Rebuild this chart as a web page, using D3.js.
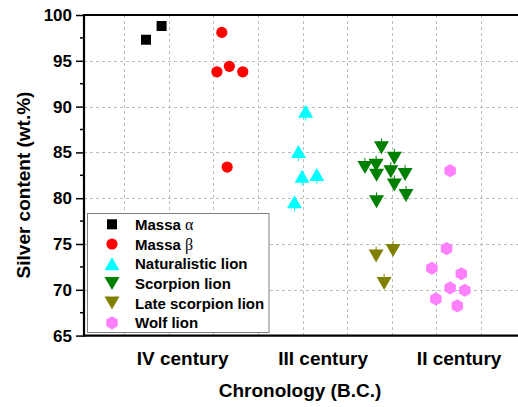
<!DOCTYPE html>
<html><head><meta charset="utf-8">
<script src="https://cdn.jsdelivr.net/npm/d3@7"></script>
<style>body{margin:0;background:#fff;}svg{display:block;}</style>
</head><body>
<svg id="chart" width="518" height="407"></svg>
<script>
const categories = ["IV century", "III century", "II century"];
const categoryPos = [2.3, 5.45, 8.5];
const yTicks = [65, 70, 75, 80, 85, 90, 95, 100];
const yMinorTicks = [67.5, 72.5, 77.5, 82.5, 87.5, 92.5, 97.5];
const xGrid = [1, 2, 3, 4, 5, 6, 7, 8, 9];

const massaAlphaX = [1.49, 1.84];
const massaAlphaY = [97.3, 98.8];
const massaBetaX = [3.19, 3.08, 3.36, 3.66, 3.31];
const massaBetaY = [98.1, 93.8, 94.4, 93.8, 83.4];
const naturalisticX = [5.07, 4.91, 4.99, 5.32, 4.82];
const naturalisticY = [89.5, 85.1, 82.4, 82.6, 79.6];
const scorpionX = [6.77, 7.06, 6.40, 6.65, 6.66, 6.98, 7.30, 7.06, 7.32, 6.66];
const scorpionY = [85.5, 84.35, 83.35, 83.6, 82.5, 82.9, 82.6, 81.45, 80.3, 79.6];
const lateScorpionX = [6.65, 7.03, 6.83];
const lateScorpionY = [73.7, 74.3, 70.7];
const wolfX = [8.31, 8.23, 7.90, 8.56, 8.31, 8.64, 7.99, 8.47];
const wolfY = [83.0, 74.5, 72.35, 71.75, 70.2, 69.95, 69.0, 68.25];

const seriesNames = ["Massa α", "Massa β", "Naturalistic lion", "Scorpion lion", "Late scorpion lion", "Wolf lion"];
const seriesColors = ["#000000", "#ff0000", "#00ffff", "#008000", "#808000", "#ff80ff"];
const seriesShapes = ["square", "circle", "up", "down", "down", "hex"];
const seriesX = [massaAlphaX, massaBetaX, naturalisticX, scorpionX, lateScorpionX, wolfX];
const seriesY = [massaAlphaY, massaBetaY, naturalisticY, scorpionY, lateScorpionY, wolfY];

(function () {
const svg = d3.select("#chart");
const pLeft = 84, pTop = 15, pBottom = 335.6, pRight = 525.5;
const x = d3.scaleLinear().domain([0.1, 10]).range([pLeft, pRight]);
const y = d3.scaleLinear().domain([65, 100]).range([pBottom, pTop]);
const font = "'Liberation Sans', Arial, sans-serif";

// grid
const grid = svg.append("g").attr("stroke", "#bdbdbd").attr("stroke-width", 1).attr("stroke-dasharray", "3,3");
grid.selectAll("line.h").data(yTicks.filter(v => v > 65 && v < 100)).enter().append("line").attr("class", "h")
  .attr("x1", pLeft).attr("x2", pRight).attr("y1", d => Math.round(y(d)) + 0.5).attr("y2", d => Math.round(y(d)) + 0.5);
grid.selectAll("line.v").data(xGrid).enter().append("line").attr("class", "v")
  .attr("y1", pTop).attr("y2", pBottom).attr("x1", d => Math.round(x(d)) + 0.5).attr("x2", d => Math.round(x(d)) + 0.5);

// y axis
const yAxis = svg.append("g").attr("transform", `translate(${pLeft},0)`)
  .call(d3.axisLeft(y).tickValues(yTicks).tickSize(8).tickPadding(4).tickFormat(d3.format("d")));
yAxis.select(".domain").remove();
yAxis.selectAll(".tick line").attr("stroke", "#000").attr("stroke-width", 1.5);
yAxis.selectAll(".tick text").attr("font-family", font).attr("font-weight", "bold").attr("font-size", 17).attr("fill", "#000");
svg.append("g").selectAll("line").data(yMinorTicks).enter().append("line")
  .attr("x1", pLeft - 4).attr("x2", pLeft).attr("y1", d => y(d)).attr("y2", d => y(d))
  .attr("stroke", "#000").attr("stroke-width", 1.5);

// frame lines
svg.append("line").attr("x1", pLeft).attr("x2", pLeft).attr("y1", pTop - 1).attr("y2", pBottom + 1).attr("stroke", "#000").attr("stroke-width", 2.2);
svg.append("line").attr("x1", pLeft - 1).attr("x2", pRight).attr("y1", pTop).attr("y2", pTop).attr("stroke", "#000").attr("stroke-width", 2.2);
svg.append("line").attr("x1", pLeft - 1).attr("x2", pRight).attr("y1", pBottom).attr("y2", pBottom).attr("stroke", "#000").attr("stroke-width", 2.2);

// x category labels
const xAxis = svg.append("g").attr("transform", `translate(0,${pBottom})`)
  .call(d3.axisBottom(x).tickValues(categoryPos).tickSize(0).tickPadding(0).tickFormat((d, i) => categories[i]));
xAxis.select(".domain").remove();
xAxis.selectAll(".tick text").attr("dy", null).attr("y", 29).attr("font-family", font).attr("font-weight", "bold").attr("font-size", 19).attr("fill", "#000");

// titles
svg.append("text").attr("x", 300).attr("y", 397).attr("text-anchor", "middle")
  .attr("font-family", font).attr("font-weight", "bold").attr("font-size", 19).text("Chronology (B.C.)");
svg.append("text").attr("transform", "translate(30,185) rotate(-90)").attr("text-anchor", "middle")
  .attr("font-family", font).attr("font-weight", "bold").attr("font-size", 19).text("Silver content (wt.%)");

// markers
function shapePath(shape) {
  switch (shape) {
    case "square": return "M-5,-5H5V5H-5Z";
    case "circle": return "M5.6,0A5.6,5.6 0 1,1 -5.6,0A5.6,5.6 0 1,1 5.6,0Z";
    case "up": return "M0,-6.5L7.5,6.5H-7.5Z";
    case "down": return "M0,6.5L7.5,-6.5H-7.5Z";
    case "hex": {
      const r = 6.6, p = d3.range(6).map(i => { const a = Math.PI / 2 + i * Math.PI / 3; return [r * Math.cos(a), r * Math.sin(a)]; });
      return "M" + p.map(q => q.join(",")).join("L") + "Z";
    }
  }
}
function stem(g, shape, color) {
  if (shape === "up") g.append("line").attr("x1", 0).attr("x2", 0).attr("y1", 0).attr("y2", 9.5).attr("stroke", color).attr("stroke-width", 1);
  if (shape === "down") g.append("line").attr("x1", 0).attr("x2", 0).attr("y1", 0).attr("y2", -9.5).attr("stroke", color).attr("stroke-width", 1);
}

const marks = svg.append("g");
seriesNames.forEach((name, s) => {
  const data = seriesX[s].map((v, i) => [v, seriesY[s][i]]);
  const g = marks.append("g");
  g.selectAll("g").data(data).enter().append("g")
    .attr("transform", d => `translate(${x(d[0])},${y(d[1])})`)
    .each(function () {
      const m = d3.select(this);
      stem(m, seriesShapes[s], seriesColors[s]);
      m.append("path").attr("d", shapePath(seriesShapes[s])).attr("fill", seriesColors[s]);
    });
});

// legend
const lg = svg.append("g");
lg.append("rect").attr("x", 87.5).attr("y", 213.5).attr("width", 181.5).attr("height", 119)
  .attr("fill", "#fff").attr("stroke", "#808080").attr("stroke-width", 1);
seriesNames.forEach((name, s) => {
  const cy = 224.3 + s * 19.7;
  const m = lg.append("g").attr("transform", `translate(112,${cy})`);
  m.append("path").attr("d", shapePath(seriesShapes[s])).attr("fill", seriesColors[s]);
  const t = lg.append("text").attr("x", 135).attr("y", cy + 5.5)
    .attr("font-family", font).attr("font-weight", "bold").attr("font-size", 15).attr("fill", "#000");
  if (name.startsWith("Massa ")) {
    t.append("tspan").text("Massa ");
    t.append("tspan").attr("font-weight", "normal").attr("font-family", "'Liberation Serif', 'Times New Roman', serif").attr("font-size", 16).text(name.slice(6));
  } else {
    t.text(name);
  }
});
})();
</script>
</body></html>
